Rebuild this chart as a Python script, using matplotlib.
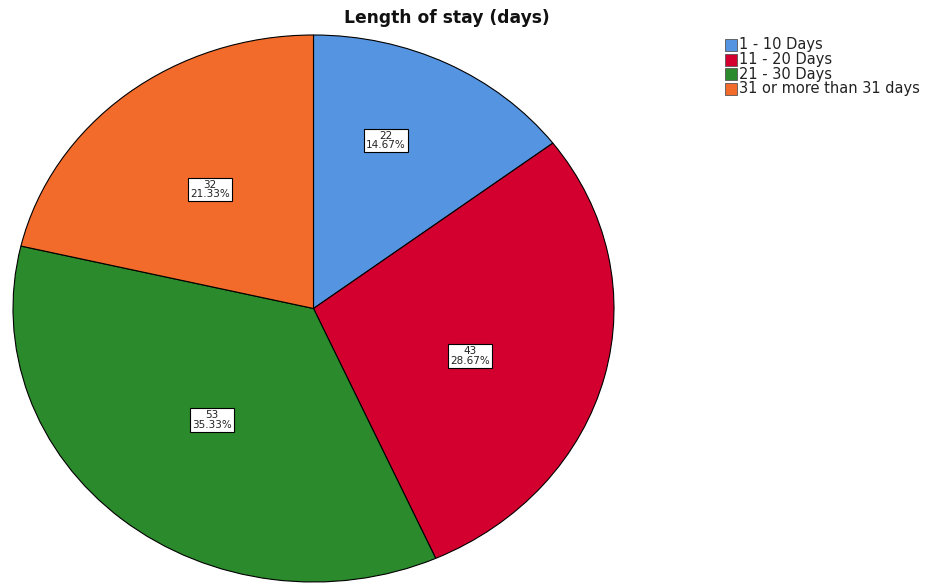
import numpy as np
import matplotlib.pyplot as plt
from matplotlib.patches import Rectangle

categories = ["1 - 10 Days", "11 - 20 Days", "21 - 30 Days", "31 or more than 31 days"]
counts = [22, 43, 53, 32]
colors = ["#5594E0", "#D3002F", "#2B8A2B", "#F26B2A"]

total = sum(counts)

fig = plt.figure(figsize=(9.31, 5.84), dpi=100)
ax = fig.add_axes([13 / 931, 2 / 584, 601 / 931, 547 / 584])


def fmt(pct):
    n = int(round(pct * total / 100))
    return f"{n}\n{pct:.2f}%"


wedges, texts, autotexts = ax.pie(
    counts, colors=colors, startangle=90, counterclock=False,
    autopct=fmt, pctdistance=0.57,
    wedgeprops=dict(edgecolor="black", linewidth=0.8),
    textprops=dict(fontsize=7.5, color="#222222", linespacing=0.95),
)

# SPSS puts the labels at slightly different radii / angles per slice
label_r = [0.66, 0.55, 0.53, 0.555]
label_shift = [5, -4, 0, 0]  # degrees
for w, t, r, s in zip(wedges, autotexts, label_r, label_shift):
    mid = np.deg2rad((w.theta1 + w.theta2) / 2 + s)
    t.set_position((r * np.cos(mid), r * np.sin(mid)))
    t.set_bbox(dict(boxstyle="square,pad=0.2", facecolor="white", edgecolor="black", linewidth=0.8))
    t.set_ha("center")

ax.set_aspect("auto")
ax.set_xlim(-1, 1)
ax.set_ylim(-1, 1)

fig.text(447 / 931, 1 - 18 / 584, "Length of stay (days)", ha="center", va="center",
         fontsize=12.3, fontweight="bold", color="#111111")

# legend drawn by hand to match SPSS look
y0 = 45
for i, (lab, c) in enumerate(zip(categories, colors)):
    y = y0 + i * 14.5
    fig.patches.append(Rectangle((725 / 931, 1 - (y + 6) / 584), 12 / 931, 12 / 584,
                                 transform=fig.transFigure, facecolor=c,
                                 edgecolor="#555555", linewidth=0.6))
    fig.text(739 / 931, 1 - y / 584, lab, ha="left", va="center", fontsize=10.5,
             color="#222222")

plt.savefig("out.png", dpi=100)
